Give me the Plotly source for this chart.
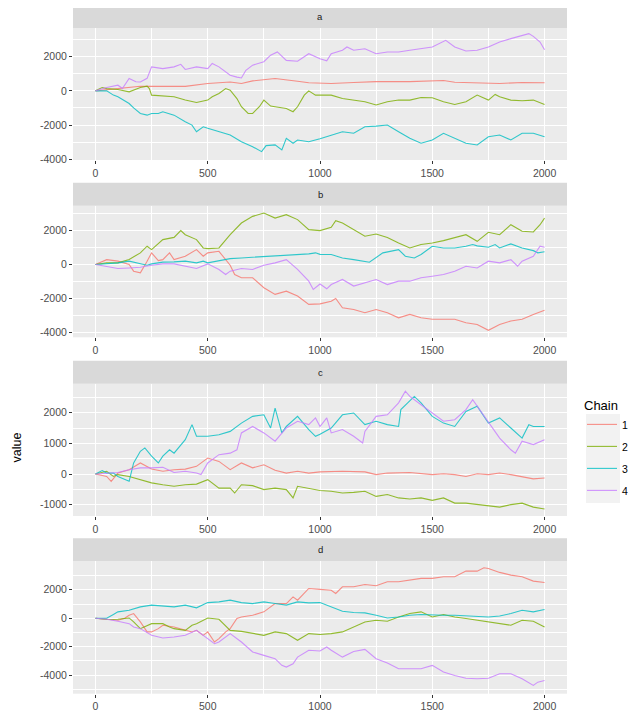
import plotly.graph_objects as go

# page is 638x717 but the HTML body has an 8px margin, so the figure is 630x709
OFF = 8
W, H = 638 - OFF, 717 - OFF

chains = ["1", "2", "3", "4"]
colors = ["#F8766D", "#7CAE00", "#00BFC4", "#C77CFF"]
panels = ["a", "b", "c", "d"]

# ---------------- panel a ----------------
a1_iter = [0,100,200,300,400,500,600,650,700,800,850,900,950,1000,1050,1150,1250,1400,1500,1550,1600,1700,1800,1900,2000]
a1_value = [0,140,270,260,260,430,520,430,580,720,660,560,470,430,430,490,540,540,560,600,500,470,430,490,470]
a2_iter = [0,30,50,100,150,200,230,240,250,300,350,400,450,500,520,550,580,600,630,650,680,700,730,750,780,800,850,880,900,930,950,980,1000,1050,1100,1150,1200,1250,1300,1350,1400,1450,1500,1550,1600,1650,1700,1750,1780,1800,1850,1900,1950,2000]
a2_value = [0,190,130,80,-60,190,270,130,-250,-290,-350,-540,-680,-540,-350,-155,135,40,-450,-930,-1320,-1320,-930,-540,-890,-930,-1030,-1220,-930,-250,0,-250,-250,-250,-450,-540,-640,-830,-640,-540,-540,-390,-400,-640,-800,-640,-250,-540,-210,-350,-540,-580,-540,-800]
a3_iter = [0,50,80,100,150,170,200,230,250,280,300,350,400,430,450,480,500,550,600,650,700,740,760,800,830,850,880,900,950,1000,1050,1100,1150,1200,1250,1300,1350,1400,1450,1500,1550,1600,1650,1700,1750,1800,1850,1900,1950,2000]
a3_value = [0,0,-250,-350,-740,-1000,-1320,-1420,-1320,-1320,-1220,-1420,-1800,-2000,-2390,-2100,-2190,-2390,-2580,-2970,-3260,-3550,-3200,-3160,-3450,-2770,-3060,-2870,-2970,-2800,-2580,-2390,-2480,-2100,-2060,-2000,-2390,-2770,-3060,-2870,-2480,-2770,-3060,-3160,-2680,-2580,-2870,-2480,-2480,-2680]
a4_iter = [0,50,100,120,150,180,200,230,250,300,350,380,400,450,500,520,550,600,630,650,670,700,750,780,810,850,900,950,1000,1030,1050,1100,1120,1150,1200,1250,1300,1350,1400,1450,1500,1560,1600,1650,1700,1750,1800,1850,1900,1930,1950,1980,2000]
a4_value = [0,190,330,140,720,530,520,730,1400,1300,1400,1550,1250,1400,1300,1600,1400,910,800,750,1200,1500,1700,2080,2270,1780,1730,2170,1880,1750,2170,2370,2560,2370,2460,2170,2270,2270,2370,2460,2560,2950,2560,2330,2370,2560,2850,3050,3240,3340,3180,2850,2400]

# ---------------- panel b ----------------
b1_iter = [0,50,100,150,170,200,230,250,280,300,330,350,400,450,480,500,550,600,620,650,700,750,800,850,900,950,1000,1050,1070,1100,1150,1200,1250,1300,1350,1400,1450,1500,1550,1600,1650,1700,1750,1800,1850,1900,1950,2000]
b1_value = [0,290,200,0,-390,-490,200,690,235,290,690,290,490,880,490,690,780,-40,-590,-780,-780,-1370,-1760,-1570,-1860,-2350,-2320,-2160,-2000,-2550,-2650,-2840,-2650,-2840,-3140,-2940,-3140,-3230,-3230,-3230,-3430,-3530,-3880,-3530,-3330,-3230,-2940,-2700]
b2_iter = [0,50,100,150,200,230,250,300,350,380,400,450,480,500,550,600,650,700,750,800,850,900,950,1000,1050,1070,1100,1150,1200,1250,1300,1350,1400,1450,1500,1550,1600,1650,1700,1750,1800,1850,1900,1950,1980,2000]
b2_value = [0,100,100,300,690,1080,880,1470,1600,2000,1760,1470,980,940,980,1760,2450,2840,3040,2740,2940,2650,2060,2000,2200,2590,2450,2060,1670,1800,1600,1270,980,1180,1270,1410,1570,1760,1370,1900,1760,2350,1960,1920,2350,2740]
b3_iter = [0,50,100,150,200,230,250,300,350,400,450,480,500,550,600,650,700,750,800,850,900,950,980,1000,1050,1100,1150,1220,1280,1350,1380,1420,1450,1500,1550,1600,1650,1680,1700,1750,1780,1800,1850,1900,1950,1970,2000]
b3_value = [0,40,100,200,40,-40,40,140,160,200,100,200,100,235,350,390,430,470,490,530,590,630,690,600,590,390,290,140,690,880,490,390,590,1080,980,980,1080,1180,1100,1020,1180,980,1220,980,820,690,750]
b4_iter = [0,50,100,150,200,250,300,350,400,450,500,550,580,600,650,700,750,800,850,900,950,970,1000,1030,1050,1100,1150,1200,1250,1300,1350,1400,1450,1500,1550,1600,1650,1700,1750,1800,1850,1880,1900,1950,1980,2000]
b4_value = [0,-100,-235,-200,-160,-40,40,40,-100,-235,40,-290,-590,-390,-235,-290,-40,100,290,-290,-980,-1470,-1150,-1430,-1180,-880,-1270,-1080,-880,-1180,-980,-980,-780,-690,-590,-390,-100,-200,200,100,290,-100,200,490,1080,1020]

# ---------------- panel c ----------------
c1_iter = [0,50,70,100,150,200,250,300,350,400,450,500,550,600,650,700,750,800,850,900,950,1000,1100,1200,1250,1300,1400,1500,1550,1600,1650,1700,1750,1800,1850,1900,1950,2000]
c1_value = [0,-80,-240,30,140,360,160,90,140,160,250,520,410,140,360,200,300,120,30,90,30,70,90,70,-20,30,50,-20,10,-20,-80,10,-20,30,-20,-100,-160,-130]
c2_iter = [0,50,80,100,150,200,250,300,350,400,450,500,550,600,620,650,700,750,800,850,880,900,950,1000,1050,1100,1150,1200,1250,1300,1350,1400,1450,1500,1550,1600,1650,1700,1750,1800,1850,1900,1950,2000]
c2_value = [0,90,-80,-20,-80,-185,-290,-350,-400,-350,-330,-185,-460,-460,-620,-350,-380,-510,-460,-510,-780,-400,-460,-540,-565,-620,-600,-565,-730,-670,-780,-815,-780,-860,-780,-950,-950,-1000,-1030,-1080,-1000,-950,-1080,-1140]
c3_iter = [0,30,50,80,100,130,150,170,200,220,250,280,300,330,350,400,430,450,500,550,600,650,700,750,780,800,830,850,900,950,980,1000,1050,1100,1150,1200,1250,1300,1350,1360,1400,1420,1450,1500,1550,1600,1650,1700,1750,1800,1850,1900,1930,1950,2000]
c3_value = [0,110,30,30,-80,-180,-240,360,740,850,580,360,580,790,680,1120,1610,1230,1230,1280,1390,1660,1880,1930,1500,2150,1340,1550,1880,1450,1230,1300,1500,1930,1990,1610,1720,1610,1550,2100,2370,2530,2320,1880,1660,1550,2040,2210,1660,1830,1500,1170,1610,1550,1550]
c4_iter = [0,50,100,150,200,250,300,350,400,450,470,500,550,600,630,650,700,750,800,850,900,950,980,1000,1030,1050,1100,1150,1190,1200,1250,1300,1350,1380,1400,1450,1500,1550,1600,1650,1680,1700,1750,1800,1850,1870,1900,1950,2000]
c4_value = [0,30,50,140,200,200,220,50,90,30,-20,360,630,680,790,1340,1550,1340,1070,1500,1720,1610,1830,1550,1830,1340,1450,1230,1010,1390,1880,1930,2320,2700,2530,2260,1990,1720,1770,2100,2420,2210,1720,1170,790,680,1070,960,1120]

# ---------------- panel d ----------------
d1_iter = [0,50,100,130,150,170,200,230,250,280,300,350,400,430,450,480,500,530,550,580,600,630,650,700,750,800,850,880,900,930,950,1000,1050,1070,1100,1150,1200,1250,1300,1350,1400,1450,1500,1550,1600,1650,1700,1730,1750,1800,1850,1900,1950,2000]
d1_value = [0,-70,-140,0,210,330,-260,-960,-960,-730,-490,-610,-850,-960,-850,-1200,-960,-1670,-1430,-960,-730,-20,90,210,450,1030,1030,1500,1270,1740,2090,2030,1970,1740,2210,2210,2370,2280,2560,2560,2680,2800,2800,2910,2910,3310,3310,3550,3500,3220,3030,2910,2610,2510]
d2_iter = [0,50,100,150,170,200,250,300,330,350,400,430,450,500,550,600,650,700,750,800,850,900,950,1000,1050,1100,1150,1200,1250,1300,1350,1400,1450,1500,1550,1600,1650,1700,1750,1800,1850,1900,1950,2000]
d2_value = [0,-90,-70,20,-260,-730,-380,-380,-610,-730,-850,-490,-380,20,-70,-850,-920,-1080,-1200,-960,-1080,-1550,-1080,-1140,-1080,-960,-610,-260,-140,-210,90,330,450,90,260,90,-20,-140,-260,-380,-490,-140,-210,-610]
d3_iter = [0,50,80,100,150,200,250,300,350,400,450,500,550,600,650,700,750,800,850,900,950,1000,1050,1100,1150,1200,1250,1300,1350,1400,1450,1500,1550,1600,1650,1700,1750,1800,1850,1900,1950,2000]
d3_value = [0,0,260,450,560,800,920,870,800,920,730,1100,1150,1270,1100,1030,1150,1030,920,1150,1080,1100,800,490,400,380,210,20,90,210,260,210,210,210,160,160,90,160,330,560,450,610]
d4_iter = [0,50,100,150,170,200,250,300,350,400,450,500,530,550,600,650,700,750,800,830,850,880,900,950,1000,1030,1050,1100,1150,1200,1250,1300,1350,1400,1450,1500,1550,1600,1650,1700,1750,1800,1850,1900,1950,1970,2000]
d4_value = [0,-70,-210,-380,-610,-730,-1200,-1390,-1320,-1200,-850,-1430,-1790,-1670,-1080,-1670,-2370,-2610,-2840,-3310,-3430,-3200,-2730,-2250,-2300,-2020,-2250,-2730,-2330,-2190,-2840,-3150,-3550,-3550,-3550,-3310,-3780,-4020,-4210,-4250,-4210,-3900,-3900,-4250,-4720,-4490,-4370]

series = {
    "a": [(a1_iter, a1_value), (a2_iter, a2_value), (a3_iter, a3_value), (a4_iter, a4_value)],
    "b": [(b1_iter, b1_value), (b2_iter, b2_value), (b3_iter, b3_value), (b4_iter, b4_value)],
    "c": [(c1_iter, c1_value), (c2_iter, c2_value), (c3_iter, c3_value), (c4_iter, c4_value)],
    "d": [(d1_iter, d1_value), (d2_iter, d2_value), (d3_iter, d3_value), (d4_iter, d4_value)],
}

x_ticks = [0, 500, 1000, 1500, 2000]
y_ticks = {
    "a": [-4000, -2000, 0, 2000],
    "b": [-4000, -2000, 0, 2000],
    "c": [-1000, 0, 1000, 2000],
    "d": [-4000, -2000, 0, 2000],
}
y_ranges = {"a": [-4040, 3670], "b": [-4290, 3470], "c": [-1370, 2945], "d": [-5300, 4000]}
x_range = [-100, 2100]

# layout in page pixels (top, bottom of each plot area; the strip sits above)
plot_left, plot_right = 73, 567
panel_px = {"a": (28, 160), "b": (205.7, 337.3), "c": (383.7, 516), "d": (561.3, 693.7)}
strip_h = 23


def fx(px):
    return (px - OFF) / W


def fy(px):
    return 1 - (px - OFF) / H


fig = go.Figure()
layout = dict(
    width=W, height=H,
    margin=dict(l=0, r=0, t=0, b=0),
    paper_bgcolor="white",
    plot_bgcolor="#EBEBEB",
    font=dict(family="Liberation Sans, Arial, sans-serif", color="#4D4D4D", size=10.5),
    showlegend=True,
    shapes=[], annotations=[],
)

for pi, p in enumerate(panels):
    sfx = "" if pi == 0 else str(pi + 1)
    top, bot = panel_px[p]
    for ci, (xs, ys) in enumerate(series[p]):
        fig.add_trace(go.Scatter(
            x=xs, y=ys, mode="lines", name=chains[ci],
            legendgroup=chains[ci], showlegend=(pi == 0),
            line=dict(color=colors[ci], width=1.1), opacity=0.8,
            xaxis="x" + sfx, yaxis="y" + sfx,
        ))
    minor_y = (y_ticks[p][1] - y_ticks[p][0]) / 2
    layout["xaxis" + sfx] = dict(
        domain=[fx(plot_left), fx(plot_right)], anchor="y" + sfx,
        range=x_range, tickvals=x_ticks, ticktext=[str(v) for v in x_ticks],
        showgrid=True, gridcolor="white", gridwidth=1.1, zeroline=False, showline=False,
        ticks="outside", ticklen=3, tickcolor="#333333", tickwidth=1,
        tickfont=dict(size=10.5, color="#4D4D4D"),
        minor=dict(tick0=250, dtick=500, showgrid=True, gridcolor="white", gridwidth=0.5),
        automargin=False, fixedrange=True,
    )
    layout["yaxis" + sfx] = dict(
        domain=[fy(bot), fy(top)], anchor="x" + sfx,
        range=y_ranges[p], tickvals=y_ticks[p], ticktext=[str(v) for v in y_ticks[p]],
        showgrid=True, gridcolor="white", gridwidth=1.1, zeroline=False, showline=False,
        ticks="outside", ticklen=3, tickcolor="#333333", tickwidth=1,
        tickfont=dict(size=10.5, color="#4D4D4D"),
        minor=dict(tick0=y_ticks[p][0] + minor_y, dtick=2 * minor_y, showgrid=True,
                   gridcolor="white", gridwidth=0.5),
        automargin=False, fixedrange=True,
    )
    # facet strip
    layout["shapes"].append(dict(
        type="rect", xref="paper", yref="paper",
        x0=fx(plot_left), x1=fx(plot_right), y0=fy(top), y1=fy(top - strip_h),
        fillcolor="#D9D9D9", line=dict(width=0), layer="below",
    ))
    layout["annotations"].append(dict(
        text=p, xref="paper", yref="paper",
        x=fx((plot_left + plot_right) / 2), y=fy(top - strip_h / 2),
        showarrow=False, xanchor="center", yanchor="middle",
        font=dict(size=9.5, color="#1A1A1A"),
    ))

# y axis title
layout["annotations"].append(dict(
    text="value", xref="paper", yref="paper", x=fx(8), y=fy(447.5),
    showarrow=False, textangle=-90, xanchor="left", yanchor="middle",
    font=dict(size=12.5, color="black"), borderpad=0,
))

# legend key background
layout["shapes"].append(dict(
    type="rect", xref="paper", yref="paper",
    x0=fx(586), x1=fx(620), y0=fy(503), y1=fy(414),
    fillcolor="#F2F2F2", line=dict(width=0), layer="below",
))

layout["legend"] = dict(
    title=dict(text="Chain", font=dict(size=13, color="black")),
    x=fx(582), y=fy(393), xanchor="left", yanchor="top",
    font=dict(size=10.5, color="black"), bgcolor="rgba(0,0,0,0)",
    tracegroupgap=3, itemwidth=30,
)

fig.update_layout(**layout)
fig.write_html("out.html")
